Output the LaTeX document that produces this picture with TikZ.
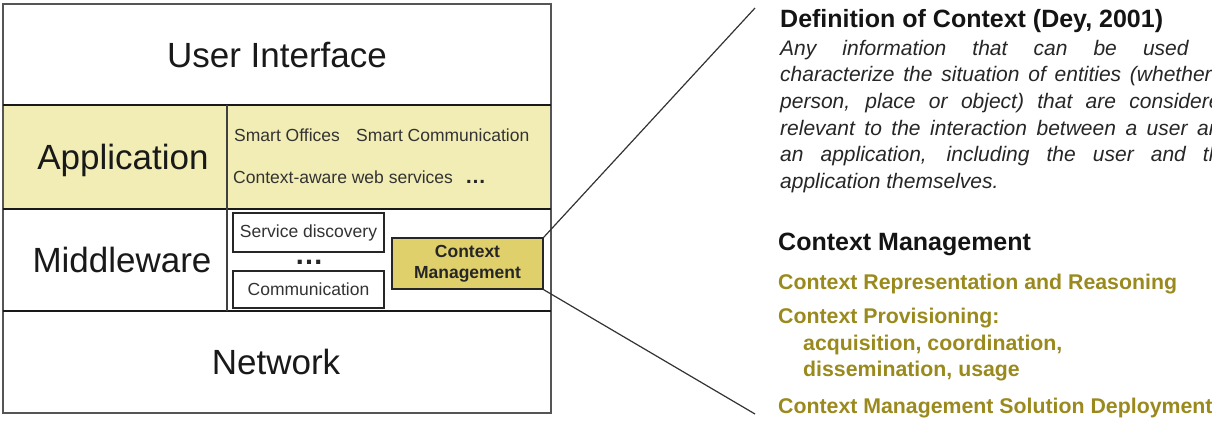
\documentclass[tikz,border=0pt]{standalone}
\usepackage{fontspec}
\setmainfont{Liberation Sans}
\definecolor{appfill}{HTML}{F1EDB4}
\definecolor{cmfill}{HTML}{DFD06C}
\definecolor{cmolive}{HTML}{9A8A1E}
\definecolor{framegray}{HTML}{555555}
\tikzset{
 lbig/.style={font=\fontsize{35}{40}\selectfont, text=black!90, inner sep=0pt, anchor=base},
 lsmall/.style={font=\fontsize{17.5}{20}\selectfont, text=black!80, inner sep=0pt, anchor=base west},
 mwbox/.style={draw=black!85, line width=1.4pt, fill=white, minimum width=151pt, inner sep=0pt, font=\fontsize{17.5}{20}\selectfont, text=black!80},
 cmbox/.style={draw=black!85, line width=1.4pt, fill=cmfill, minimum width=151pt, minimum height=51pt, inner sep=0pt, align=center, font=\bfseries\fontsize{17.5}{21}\selectfont, text=black!85},
 headtxt/.style={font=\bfseries\fontsize{25}{30}\selectfont, text=black!92, inner sep=0pt, anchor=base west},
 bodytxt/.style={font=\itshape\fontsize{21}{26.7}\selectfont, text=black!85, inner sep=0pt, anchor=base west},
 itemtxt/.style={font=\bfseries\fontsize{21.3}{26.7}\selectfont, text=cmolive, inner sep=0pt, anchor=base west},
 dotstxt/.style={font=\bfseries, text=black!85, inner sep=0pt, anchor=base},
 linkline/.style={draw=black!80, line width=1.2pt},
 sepline/.style={draw=black!90, line width=2pt},
}
\begin{document}
\begin{tikzpicture}[x=1pt,y=-1pt]
\useasboundingbox (0,0) rectangle (1212,424);
\begin{scope}
\clip (0,0) rectangle (1212,424);
% layers
\fill[appfill] (3,105) rectangle (551,209);
\draw[framegray, line width=1.6pt] (3,4) rectangle (551,413);
\draw[sepline] (3,105) -- (551,105);
\draw[sepline] (3,209) -- (551,209);
\draw[sepline] (3,311) -- (551,311);
\draw[black!75, line width=1.3pt] (227,105) -- (227,311);
% layer labels
\node[lbig] (ui) at (277,67.5) {User Interface};
\node[lbig] (app) at (123,169.5) {Application};
\node[lbig] (mw) at (122,272.5) {Middleware};
\node[lbig] (net) at (276,374.5) {Network};
% application items
\node[lsmall] (so) at (234,141) {Smart Offices};
\node[lsmall] (sc) at (356,141) {Smart Communication};
\node[lsmall] (cws) at (233,183) {Context-aware web services};
\node[dotstxt, font=\bfseries\fontsize{21}{24}\selectfont] (adots) at (475.5,183) {…};
% middleware items
\node[mwbox, minimum height=39pt] (sd) at (308.5,232.5) {Service discovery};
\node[dotstxt, font=\bfseries\fontsize{29}{32}\selectfont] (mdots) at (309,264) {…};
\node[mwbox, minimum height=37pt] (comm) at (308.5,289.5) {Communication};
\node[cmbox] (cm) at (467.5,263.5) {Context\\Management};
% zoom lines
\coordinate (zt) at (755,8);
\coordinate (zb) at (755,414);
\draw[linkline] (cm.north east) -- (zt);
\draw[linkline] (cm.south east) -- (zb);
% definition
\node[headtxt] (deft) at (780,27) {Definition of Context (Dey, 2001)};
\node[bodytxt] (d1) at (780,55) {\makebox[452pt][s]{Any information that can be used to}};
\node[bodytxt] (d2) at (780,81.7) {\makebox[452pt][s]{characterize the situation of entities (whether a}};
\node[bodytxt] (d3) at (780,108.3) {\makebox[452pt][s]{person, place or object) that are considered}};
\node[bodytxt] (d4) at (780,135) {\makebox[452pt][s]{relevant to the interaction between a user and}};
\node[bodytxt] (d5) at (780,161.7) {\makebox[452pt][s]{an application, including the user and the}};
\node[bodytxt] (d6) at (780,188.3) {application themselves.};
% context management
\node[headtxt] (cmt) at (778,250.7) {Context Management};
\node[itemtxt] (i1) at (778,289) {Context Representation and Reasoning};
\node[itemtxt] (i2) at (778,323.3) {Context Provisioning:};
\node[itemtxt] (i3) at (803,350) {acquisition, coordination,};
\node[itemtxt] (i4) at (803,376.7) {dissemination, usage};
\node[itemtxt] (i5) at (778,413.3) {Context Management Solution Deployment};
\end{scope}
\end{tikzpicture}
\end{document}
